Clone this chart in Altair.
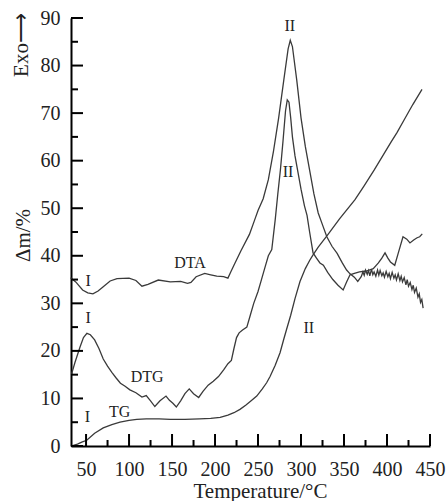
import altair as alt
import pandas as pd

# ---------------- data ----------------
dta_x = [32, 38, 46, 52, 58, 64, 70, 78, 86, 100, 108, 115, 122, 134, 148, 160, 168, 172, 178, 188,
         195, 202, 210, 215, 218, 222, 230, 240, 246, 250, 256, 262, 268, 274, 280, 285, 287.5, 290,
         295, 300, 305, 310, 315, 320, 325, 330, 336, 342, 348, 353, 357, 362, 366, 370,
         372, 373.5, 375, 377, 378.5, 380, 382, 383.5, 385, 387, 389, 390.5, 392, 394, 395.5, 397, 399,
         401, 402.5, 404, 406, 408, 409.5, 411, 413, 415, 416.5, 418, 420, 422, 423.5, 425, 427, 429,
         430.5, 432, 434, 436, 437.5, 439, 440.5, 442]
dta_y = [35.4, 34.5, 32.8, 32.2, 32.0, 32.6, 33.5, 34.7, 35.2, 35.3, 34.8, 33.6, 34.0, 34.9, 34.5, 34.6,
         34.2, 34.4, 35.6, 36.3, 36.0, 35.7, 35.6, 35.3, 36.5, 38.0, 41.0, 44.5, 47.5, 49.5, 52.0, 56.0,
         62.0, 69.0, 77.0, 83.5, 85.3, 84.0, 77.0, 69.0, 63.0, 58.0, 53.0, 49.0, 46.5, 44.0, 42.0, 40.5,
         38.5, 37.0, 36.2, 35.5, 34.6, 35.6,
         36.6, 35.9, 37.0, 36.1, 36.9, 35.8, 37.2, 36.0, 36.6, 35.7, 37.0, 35.9, 36.9, 35.8,
         36.4, 35.5, 36.7, 35.6, 36.3, 35.2, 36.5, 35.3, 36.0, 34.9, 36.2, 34.8, 35.7, 34.5, 35.4, 33.9,
         35.0, 33.6, 34.4, 32.9, 33.8, 32.3, 33.2, 31.3, 32.0, 30.2, 30.8, 29.0]

dtg_x = [33, 37, 43, 47, 51, 55, 60, 65, 70, 75, 80, 85, 90, 95, 101, 108, 115, 120, 125, 130, 136,
         143, 147, 151, 155, 160, 165, 170, 175, 181, 186, 192, 198, 204, 210, 215, 219, 222, 225,
         228, 232, 237, 241, 245, 250, 254, 258, 262, 266, 270, 273, 276, 279, 282, 284, 286, 288,
         290, 293, 296, 300, 304, 307, 310, 314, 318, 322, 326, 331, 337, 343, 349, 353, 357, 362,
         368, 376, 384, 390, 394, 397.7, 401, 404, 409, 413, 418.6, 423, 426.7, 431, 435, 438, 441]
dtg_y = [15.0, 17.5, 20.8, 22.8, 23.7, 23.4, 22.3, 20.5, 18.3, 16.8, 15.5, 14.3, 13.2, 12.6, 11.8,
         11.2, 10.3, 10.6, 9.5, 8.3, 9.5, 10.5, 9.6, 9.0, 8.2, 9.5, 11.0, 12.0, 11.0, 10.2, 11.5, 12.8,
         13.6, 14.6, 16.0, 17.3, 18.0, 20.5, 22.8, 23.8, 24.4, 25.0, 27.5, 30.0, 32.5, 35.0, 37.5,
         40.0, 41.3, 47.6, 53.0, 58.0, 64.0, 70.5, 72.8, 72.3, 69.0, 65.0, 61.0, 58.0, 54.0, 50.5,
         48.5, 45.0, 40.6, 39.5, 38.5, 38.0, 36.5, 35.0, 33.8, 32.8, 34.5, 36.0, 36.3, 36.6, 36.8,
         37.3, 38.5, 39.5, 40.6, 39.5, 38.7, 38.0, 40.5, 44.0, 43.5, 42.7, 43.3, 43.8, 44.0, 44.6]

tg_x = [32.5, 40, 45, 50.8, 60, 70, 80, 89.5, 100, 109, 120, 135, 148, 165, 182, 195, 206, 215, 222,
        229, 236, 242, 248.5, 255, 260, 264, 270, 275.6, 280, 283, 288, 293, 298.8, 305, 310, 314,
        320, 331, 345, 362.8, 373, 385, 395, 405, 411.6, 420, 430, 440.7]
tg_y = [0.0, 0.4, 0.8, 1.2, 2.7, 3.8, 4.5, 5.0, 5.4, 5.6, 5.7, 5.7, 5.6, 5.6, 5.7, 5.8, 6.0, 6.5,
        7.0, 7.7, 8.6, 9.5, 10.5, 12.0, 13.3, 14.6, 17.0, 19.6, 22.5, 24.4, 27.5, 31.0, 34.6, 37.3,
        39.0, 40.2, 41.8, 44.4, 47.8, 51.8, 54.6, 58.0, 61.0, 64.0, 65.9, 68.6, 71.8, 75.0]

label_text = ["I", "I", "I", "TG", "DTG", "DTA", "II", "II", "II"]
label_x = [52.5, 52.5, 51.5, 89, 121, 171, 287, 285, 309]
label_y = [34.6, 27.0, 6.1, 7.2, 14.5, 38.5, 88.3, 57.7, 24.8]

x_major = [50, 100, 150, 200, 250, 300, 350, 400, 450]
x_minor = [75, 125, 175, 225, 275, 325, 375, 425]
y_major = [0, 10, 20, 30, 40, 50, 60, 70, 80, 90]
y_minor = [5, 15, 25, 35, 45, 55, 65, 75, 85]

# ---------------- build tables ----------------
curves = pd.concat([
    pd.DataFrame({"T": dta_x, "v": dta_y, "s": "DTA"}),
    pd.DataFrame({"T": dtg_x, "v": dtg_y, "s": "DTG"}),
    pd.DataFrame({"T": tg_x, "v": tg_y, "s": "TG"}),
], ignore_index=True)
curves["i"] = range(len(curves))

labels = pd.DataFrame({"t": label_text, "T": label_x, "v": label_y})

W, H = 359, 428
FONT = "Liberation Serif"
INK = "#222222"

xs = alt.Scale(domain=[32.5, 450], nice=False, zero=False)
ys = alt.Scale(domain=[0, 90], nice=False, zero=False)

lines = alt.Chart(curves).mark_line(strokeWidth=1.3, color="#3a3a3a").encode(
    x=alt.X("T:Q", scale=xs, axis=alt.Axis(
        values=x_major, ticks=False, labelPadding=13, labelOverlap=False, labelFlush=False,
        title="Temperature/°C",
        titleX=189, titleY=51, titleBaseline="alphabetic", titleAlign="center",
        titleFontSize=21, titleFontWeight="normal")),
    y=alt.Y("v:Q", scale=ys, axis=alt.Axis(
        values=y_major, ticks=False, labelPadding=11, labelOverlap=False, labelFlush=False,
        title="Δm/%",
        titleX=-48, titleY=217, titleAngle=270, titleBaseline="middle", titleAlign="center",
        titleFontSize=21, titleFontWeight="normal")),
    detail="s:N",
    order="i:Q",
)

texts = alt.Chart(labels).mark_text(font=FONT, fontSize=16, color=INK, baseline="middle",
                                     align="center").encode(
    x=alt.X("T:Q", scale=xs), y=alt.Y("v:Q", scale=ys), text="t:N")

exo = alt.Chart(pd.DataFrame({"t": ["Exo⟶"]})).mark_text(
    font=FONT, fontSize=21, color=INK, angle=270, align="center", baseline="middle"
).encode(x=alt.value(-49), y=alt.value(27), text="t:N")

ymaj = alt.Chart(pd.DataFrame({"v": y_major})).mark_rule(color="black", strokeWidth=2).encode(
    y=alt.Y("v:Q", scale=ys), x=alt.value(0), x2=alt.value(12))
ymin = alt.Chart(pd.DataFrame({"v": y_minor})).mark_rule(color="black", strokeWidth=2).encode(
    y=alt.Y("v:Q", scale=ys), x=alt.value(0), x2=alt.value(7))
xmaj = alt.Chart(pd.DataFrame({"T": x_major})).mark_rule(color="black", strokeWidth=2).encode(
    x=alt.X("T:Q", scale=xs), y=alt.value(H), y2=alt.value(H - 12))
xmin = alt.Chart(pd.DataFrame({"T": x_minor})).mark_rule(color="black", strokeWidth=2).encode(
    x=alt.X("T:Q", scale=xs), y=alt.value(H), y2=alt.value(H - 6))

chart = alt.layer(lines, texts, exo, ymaj, ymin, xmaj, xmin).properties(
    width=W, height=H,
    padding={"left": 71, "top": 18, "right": 17, "bottom": 55},
    autosize=alt.AutoSizeParams(type="none"),
    background="white",
).configure_view(stroke=None).configure_axis(
    domainColor="black", domainWidth=2, grid=False,
    labelFont=FONT, labelFontSize=20, labelColor=INK,
    titleFont=FONT, titleColor=INK,
)

chart.save("out.html", embed_options={"renderer": "svg", "actions": False})
